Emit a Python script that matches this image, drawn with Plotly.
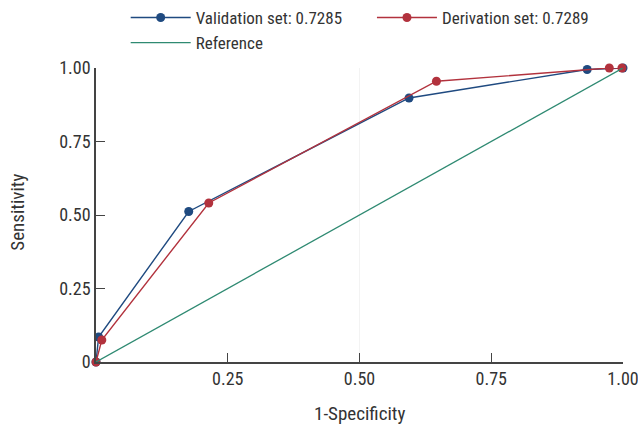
import plotly.graph_objects as go

# ROC curve points (1-Specificity, Sensitivity)
val_fpr = [0.0, 0.005, 0.176, 0.594, 0.932, 1.0]
val_tpr = [0.0, 0.085, 0.512, 0.898, 0.995, 1.0]
der_fpr = [0.0, 0.011, 0.214, 0.646, 0.974, 0.998]
der_tpr = [0.0, 0.075, 0.541, 0.955, 1.0, 1.0]
ref_x = [0.0, 1.0]
ref_y = [0.0, 1.0]

val_name = "Validation set: 0.7285"
der_name = "Derivation set: 0.7289"
ref_name = "Reference"
x_title = "1-Specificity"
y_title = "Sensitivity"

x_ticks = [0.25, 0.5, 0.75, 1.0]
x_ticktext = ["0.25", "0.50", "0.75", "1.00"]
y_ticks = [0.0, 0.25, 0.5, 0.75, 1.0]
y_ticktext = ["0", "0.25", "0.50", "0.75", "1.00"]

BLUE = "#1f4a80"
RED = "#b2323d"
GREEN = "#2f8a72"
TEXT = "#333333"
FONT = "Liberation Sans Narrow, Roboto Condensed, Arial Narrow, Roboto, sans-serif"

fig = go.Figure()
fig.add_trace(go.Scatter(
    x=val_fpr, y=val_tpr, mode="lines+markers", name=val_name,
    line=dict(color=BLUE, width=1.4), marker=dict(color=BLUE, size=9),
    cliponaxis=False, legend="legend",
))
fig.add_trace(go.Scatter(
    x=der_fpr, y=der_tpr, mode="lines+markers", name=der_name,
    line=dict(color=RED, width=1.4), marker=dict(color=RED, size=9),
    cliponaxis=False, legend="legend2",
))
fig.add_trace(go.Scatter(
    x=ref_x, y=ref_y, mode="lines", name=ref_name,
    line=dict(color=GREEN, width=1.3), cliponaxis=False, legend="legend",
))

axis_common = dict(
    showgrid=False, zeroline=False, showline=True, linecolor="#444444",
    linewidth=1.5, ticks="inside", ticklen=9, tickwidth=1.3, tickcolor="#444444",
    tickfont=dict(family=FONT, size=18, color=TEXT),
    range=[0, 1], fixedrange=True, automargin=False,
    ticklabeloverflow="allow",
)

legend_common = dict(
    orientation="v", y=1.0, xanchor="left", yanchor="top",
    xref="container", yref="container", traceorder="normal",
    font=dict(family=FONT, size=17, color=TEXT),
    bgcolor="rgba(0,0,0,0)", itemwidth=60, tracegroupgap=0,
)

fig.update_layout(
    width=638, height=431,
    margin=dict(l=96, r=15, t=68, b=69, autoexpand=False),
    paper_bgcolor="white", plot_bgcolor="white",
    font=dict(family=FONT, size=18, color=TEXT),
    xaxis=dict(**axis_common, tickvals=x_ticks, ticktext=x_ticktext),
    yaxis=dict(**axis_common, tickvals=y_ticks, ticktext=y_ticktext),
    legend=dict(x=0.197, **legend_common),
    legend2=dict(x=0.583, **legend_common),
    annotations=[
        dict(text=x_title, xref="paper", yref="paper", x=0.5, y=-0.174,
             xanchor="center", yanchor="middle", showarrow=False,
             font=dict(family=FONT, size=19, color=TEXT)),
        dict(text=y_title, xref="paper", yref="paper", x=-0.148, y=0.508,
             xanchor="center", yanchor="middle", showarrow=False, textangle=-90,
             font=dict(family=FONT, size=19, color=TEXT)),
    ],
    shapes=[dict(type="line", xref="x", yref="paper", x0=0.5, x1=0.5,
                 y0=0, y1=1, line=dict(color="#f3f3f3", width=1), layer="below")],
)

fig.write_html("out.html")
